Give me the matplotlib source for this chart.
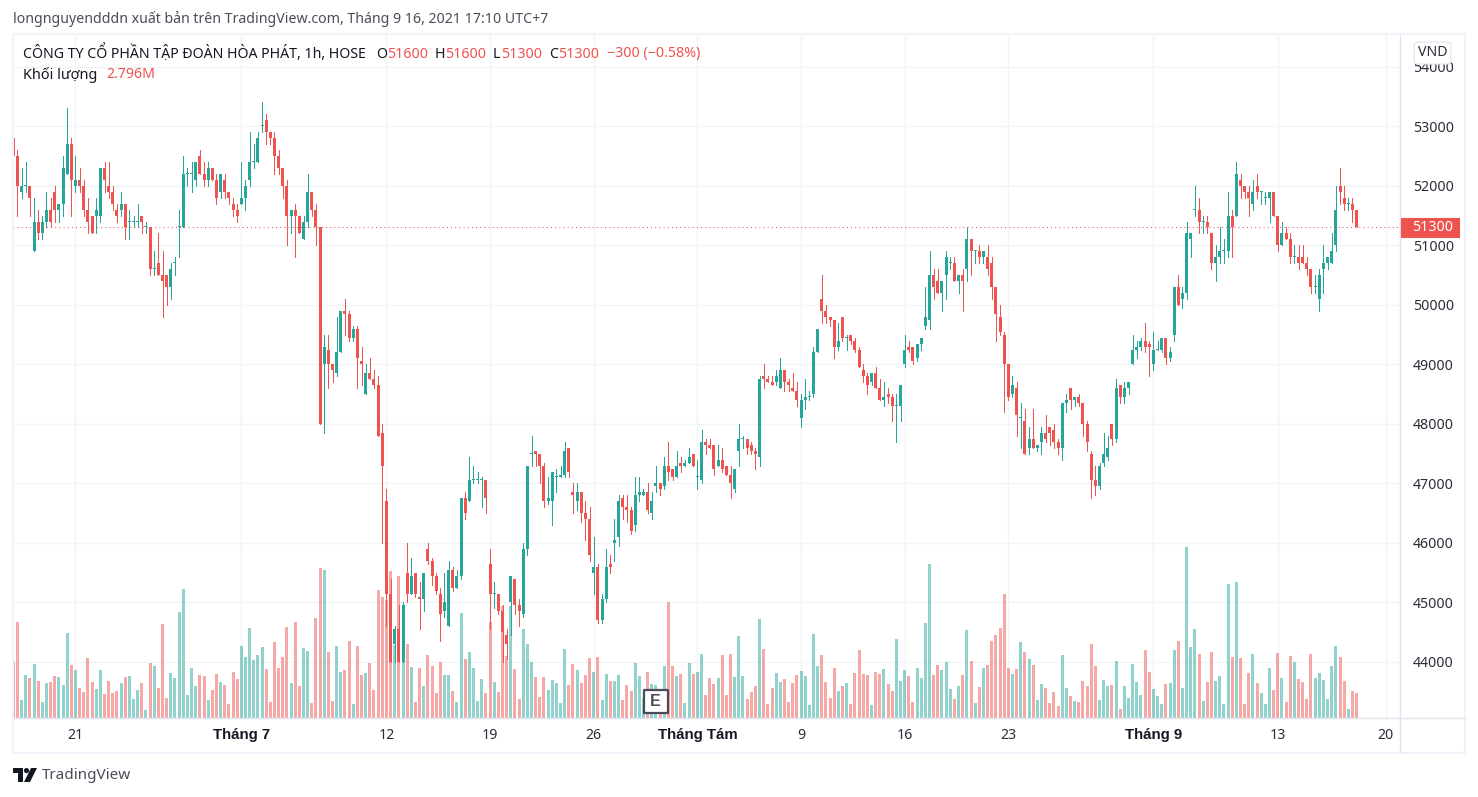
import numpy as np
import matplotlib
matplotlib.use("Agg")
import matplotlib.pyplot as plt
from matplotlib.patches import Rectangle, Polygon, Circle, FancyBboxPatch
from matplotlib.transforms import Affine2D

W, H = 1478, 797
plt.rcParams['font.family'] = ['Noto Sans', 'DejaVu Sans']

opens = [52800,52500,51900,52000,52000,50900,51400,51200,51400,51600,
51900,51600,51700,52200,52700,52000,52100,52000,51600,51500,
51500,51500,52300,52000,51900,51600,51600,51700,51400,51400,
51400,51500,51300,51300,50600,50700,50500,50500,50300,50700,
51300,51300,52200,52200,52100,52500,52200,52100,52300,52100,
51900,52100,51900,51700,51600,51700,51800,52100,52400,52400,
53000,53100,52900,52800,52500,52300,52000,51500,51600,51500,
51100,51400,51900,51600,51300,49000,49250,49000,48850,49200,
49900,49850,49450,49600,49050,48500,48850,48750,48650,47850,
46700,45150,44300,44550,44000,45500,45150,45500,45100,45050,
45900,45700,45450,45150,44850,44600,45550,45250,45450,46750,
46700,47050,47050,47050,47050,45650,45150,45150,44850,44450,
45000,45400,44950,44800,45900,47500,47550,47500,47300,46700,
46700,47100,47100,47150,47600,46850,46700,46850,46500,46400,
45500,45600,44700,45050,45650,46000,46100,46750,46600,46550,
46300,46800,46800,46850,46500,46950,47000,46950,47300,47250,
47100,47350,47300,47350,47500,47100,47050,47700,47650,47650,
47300,47400,47300,47150,46900,47550,47750,47750,47650,47550,
47450,48800,48750,48700,48700,48600,48900,48700,48600,48550,
48100,48400,48450,48500,49200,50100,49900,49800,49750,49300,
49800,49450,49500,49400,49250,48900,48800,48700,48850,48600,
48400,48500,48450,48300,48300,49000,49300,49300,49100,49350,
49650,49750,50500,50400,50200,50500,50700,50700,50400,50500,
50600,51100,50900,50900,50800,50800,50700,50300,49800,49500,
49000,48500,48600,48100,48050,47600,47750,47600,47700,47850,
47950,47900,47700,47600,48350,48600,48400,48450,48350,48000,
47500,47050,46950,47350,47450,48000,47750,48650,48450,48600,
49000,49250,49300,49400,49350,49000,49250,49250,49450,49100,
49500,50300,50100,50200,51100,51600,51600,51400,51400,51200,
50700,50800,50900,50900,51500,51500,52100,52000,51900,51700,
52000,51900,51800,51800,51900,51500,51000,51200,51100,50800,
50800,50800,50700,50600,50300,50100,50600,50700,50700,51000,
52000,51800,51700,51700,51600]

closes = [52500,52000,52000,52000,51800,51400,51200,51400,51600,51400,
51600,51700,52300,52700,52100,52100,52000,51600,51400,51200,
51600,52300,52100,51900,51700,51500,51700,51300,51400,51400,
51400,51400,51300,50600,50600,50500,50400,50300,50600,50700,
51300,52200,52200,52200,52400,52200,52100,52300,52100,51800,
52200,51900,51800,51600,51500,51800,52000,52400,52400,52800,
53000,52900,52800,52500,52300,52000,51500,51600,51500,51200,
51400,51900,51600,51300,48000,49300,49000,48900,49200,49900,
49850,49450,49600,49100,49000,48850,48750,48650,47800,47300,
45150,44000,44550,44000,44950,45150,45450,45150,45050,45500,
45700,45450,45200,44800,45000,45550,45250,45450,46750,46500,
47050,47050,47050,47050,46750,45150,45150,44850,44500,44300,
45450,44950,44850,45900,47300,47500,47500,47300,46700,46750,
47200,47100,47150,47550,47200,46800,46850,46500,46400,45800,
45600,44700,45050,45600,45600,46050,46700,46600,46550,46200,
46800,46850,46850,46550,46700,47000,46900,47300,47200,47100,
47300,47300,47350,47450,47300,47100,47700,47650,47600,47250,
47400,47250,47150,47000,47250,47750,47750,47600,47550,47500,
48750,48750,48700,48650,48800,48900,48700,48650,48550,48400,
48400,48450,48450,49200,49600,49900,49800,49750,49300,49400,
49450,49450,49400,49250,48950,48800,48650,48850,48600,48400,
48450,48450,48300,48300,48650,49250,49250,49050,49350,49450,
49800,50500,50300,50200,50400,50800,50700,50400,50500,50400,
51100,50900,50900,50800,50900,50600,50300,49850,49550,49000,
48450,48650,48150,48100,47500,47750,47600,47650,47850,47750,
47850,47700,47600,48350,48400,48400,48450,48350,48000,47700,
47050,46950,47300,47500,47600,47750,48600,48450,48600,48700,
49250,49300,49400,49300,49300,49250,49250,49450,49100,49200,
50300,50000,50200,51200,51200,51600,51400,51400,51300,50700,
50800,50900,50900,51500,51300,52200,52000,51900,51800,51900,
51900,51900,51800,51900,51500,51000,51200,51100,50800,50800,
50700,50700,50600,50300,50300,50500,50700,50800,50900,51600,
51900,51700,51700,51600,51300]

highs = [53000,52600,52300,52400,52000,51800,51600,51500,51900,51800,
52000,51700,52500,53300,52800,52500,52300,52100,51800,51500,
51800,52300,52400,52400,52000,51700,51900,51700,51600,51500,
51700,51500,51400,51300,50900,51200,50900,50500,50700,50800,
51600,52500,52300,52400,52400,52600,52400,52400,52300,52200,
52200,52200,51900,51800,51700,52400,52100,52900,52700,52900,
53400,53200,52900,52900,52600,52300,52100,51600,51700,51500,
51500,52200,51900,51700,51300,49500,49500,49000,49800,49900,
50100,49900,49650,49650,49300,49000,49100,48900,48800,48000,
46900,45400,44600,44950,45000,46000,45750,45500,45350,45500,
46000,45750,45500,45250,45500,45700,45600,45550,46750,46850,
47450,47300,47200,47100,47050,45900,45350,45150,44950,44550,
45450,45400,45050,46000,47300,47800,47550,47500,47350,47100,
47200,47250,47300,47700,47600,47000,47000,46850,46700,46600,
46100,45650,45150,45900,45800,46400,46800,46800,46800,46600,
47100,47100,46900,47000,46850,47300,47000,47450,47700,47250,
47550,47450,47400,47600,47500,47400,47900,47750,47750,47650,
47650,47600,47300,47300,47250,48000,47800,47750,47700,47600,
48800,49000,48800,48800,48900,49100,48900,48750,48850,48700,
48500,48750,48550,49300,49600,50500,50000,49800,49750,49700,
49800,49500,49500,49450,49300,49000,48850,48850,48950,48750,
48700,48600,48500,48500,48650,49500,49400,49300,49350,49450,
50300,50900,50600,50600,50400,50900,50800,50800,50500,50600,
51300,51100,50900,51000,50900,51000,50800,50300,50000,49550,
49000,48800,48700,48350,48250,47950,48250,47650,47950,48150,
47950,48000,47750,48350,48500,48600,48450,48500,48350,48050,
47550,47300,47350,47850,47800,48000,48750,48650,48700,48700,
49500,49400,49450,49700,49400,49550,49400,49450,49450,49300,
50300,50500,50300,51400,51200,52000,51800,51500,51500,51200,
51000,51300,51100,51900,51600,52400,52200,52000,52000,52100,
52200,51900,51900,51900,51900,51500,51400,51300,51200,51000,
51000,51000,50800,50600,50500,50600,51000,50800,51200,52000,
52300,52000,51800,51800,51600]

lows = [52500,51500,51800,51900,51500,50900,51100,51100,51300,51300,
51400,51400,51500,52200,51500,51900,51900,51500,51200,51200,
51200,51400,51900,51800,51600,51400,51500,51100,51100,51300,
51300,51200,51200,50500,50500,50500,49800,50000,50100,50500,
50800,51300,52000,51900,52000,52200,52000,52000,52100,51700,
51800,51800,51700,51500,51400,51700,51600,52000,52300,52400,
52900,52700,52700,52200,52200,51800,51000,51200,50800,51200,
51100,51300,51500,51000,48000,47850,48600,48700,48800,49200,
49500,49400,49400,48600,48650,48500,48750,48600,47800,46000,
44600,44000,44000,44000,44000,45000,45150,45100,44550,44850,
45650,45300,45150,44350,44750,44600,45200,45250,45400,46400,
46700,47000,47000,46600,46500,44550,44900,44800,44000,44050,
44450,44800,44600,44750,45800,47300,47300,47000,46600,46650,
46300,46850,47100,47100,47100,46500,46550,46350,46050,45700,
45150,44650,44650,45000,45500,45700,45950,46400,46350,46150,
46200,46700,46800,46500,46400,46850,46800,46900,47050,47050,
47100,47200,47300,47350,47300,46900,47000,47500,47600,47150,
47300,47200,47150,46750,46850,47300,47600,47500,47500,47250,
47300,48600,48700,48650,48650,48600,48550,48550,48550,48300,
47950,48250,48400,48450,49200,49700,49700,49650,49100,49250,
49400,49250,49350,49200,48950,48700,48500,48650,48600,48400,
48300,48350,48050,47700,48050,48950,49200,49000,49050,49250,
49600,49600,50100,50200,49900,50100,50600,50400,50200,49900,
50400,50500,50700,50700,50700,50500,50100,49400,49500,48200,
48400,48450,47800,47600,47500,47500,47600,47550,47500,47700,
47650,47600,47500,47400,48200,48250,48300,48300,47800,47550,
46750,46800,46900,47300,47400,47650,47700,48350,48350,48500,
49000,49100,49250,49200,48800,48900,49250,49200,49000,49050,
49400,50000,49950,50100,50800,51500,51200,51200,51200,50600,
50400,50700,50700,50800,50800,51500,51800,51800,51500,51600,
51800,51700,51700,51400,51500,50900,51000,51100,50700,50700,
50600,50700,50500,50200,50200,49900,50200,50600,50700,50900,
51700,51600,51600,51400,51300]

# volume in millions of shares
volumes = [6.26,10.73,2.01,4.81,4.47,6.04,4.14,1.79,3.91,4.02,
4.70,4.58,3.69,9.50,5.93,5.37,3.35,2.91,6.71,4.02,
3.24,5.37,2.68,4.14,2.80,3.02,3.91,4.58,4.70,2.12,
3.13,3.91,0.89,6.15,5.81,3.35,10.51,2.24,5.03,4.47,
11.85,14.42,2.57,5.59,3.58,4.81,4.70,2.01,3.13,4.92,
4.02,3.69,1.57,5.14,4.36,8.05,6.82,10.06,6.48,7.04,
7.94,5.48,1.79,8.50,5.59,6.82,10.17,3.91,10.73,3.58,
7.83,7.49,1.68,11.18,16.77,16.55,7.38,1.90,8.05,5.14,
5.37,8.61,1.57,8.05,4.81,5.03,6.15,3.13,14.31,13.53,
13.19,16.43,8.16,15.88,11.96,8.27,5.70,1.79,5.59,3.58,
7.04,5.81,2.80,6.26,4.81,4.81,3.02,1.79,11.74,6.60,
7.38,5.59,1.90,4.36,2.80,10.73,4.02,2.91,12.52,6.93,
12.52,5.48,2.12,9.95,8.27,6.26,4.58,2.35,4.58,3.13,
4.25,3.91,1.68,7.71,3.69,6.04,5.37,3.91,4.81,6.71,
5.14,6.82,2.01,4.92,4.14,4.14,4.81,2.01,3.69,3.02,
6.15,4.70,2.24,5.14,3.80,3.69,2.24,5.81,12.97,5.81,
4.70,4.92,1.68,6.15,4.92,5.14,7.16,2.57,4.47,3.80,
4.47,7.04,2.57,7.16,4.58,9.17,4.70,2.12,2.91,3.58,
11.07,7.71,1.57,3.35,5.03,4.02,4.36,1.79,3.91,4.81,
5.25,4.70,1.45,9.39,5.81,7.04,4.02,2.24,5.59,3.02,
3.58,3.91,1.57,5.03,7.60,4.92,4.81,1.45,5.14,4.92,
5.48,3.80,3.02,8.83,4.14,5.37,4.70,1.79,5.59,4.47,
10.62,17.22,4.81,5.93,5.37,6.26,3.24,2.12,3.58,4.81,
9.84,6.37,1.68,3.47,5.59,5.93,8.61,9.28,10.06,13.86,
5.59,4.92,5.48,8.50,7.38,6.60,5.93,2.01,3.80,3.35,
1.68,2.91,1.34,7.04,3.35,2.46,1.90,1.79,4.14,3.58,
8.27,5.81,2.01,4.25,3.58,3.69,6.37,1.01,3.58,2.24,
6.04,4.02,2.57,7.60,5.14,3.24,2.46,1.57,3.80,3.91,
7.60,8.61,3.35,19.12,7.94,9.95,7.16,1.90,4.02,7.38,
4.14,4.70,1.57,14.98,6.82,15.20,6.71,1.57,5.03,7.16,
3.91,2.80,1.57,5.59,3.13,7.27,4.47,1.79,6.93,6.26,
4.36,4.02,2.12,7.16,4.47,5.03,4.25,2.12,5.81,8.05,
6.82,4.14,1.01,3.02,2.80]

price_ticks = [44000,45000,46000,47000,48000,49000,50000,51000,52000,53000,54000]
time_ticks = [15,55,90,115,140,165,190,215,240,275,305,331]
time_labels = ['21','Tháng 7','12','19','26','Tháng Tám','9','16','23','Tháng 9','13','20']
month_labels = ['Tháng 7','Tháng Tám','Tháng 9']
last_price = 51300

GREEN = '#26a69a'
RED = '#ef5350'
GRID = '#f2f3f6'
LINE = '#e0e3eb'
TEXT = '#131722'
FS = 10.2

def fx(x):
    return x / W

def fy(y):
    return 1 - y / H

fig = plt.figure(figsize=(W / 100, H / 100), dpi=100, facecolor='white')

# plot area is x 13-1400, y 35-718 in image pixels
ax = fig.add_axes([fx(13), fy(718), fx(1400 - 13), fy(35) - fy(718)])
bar_px = 4.146
ax.set_xlim(-0.07, 334.47)
ax.set_ylim(43059, 54534)
px_price = (54534 - 43059) / 683

o = np.array(opens)
c = np.array(closes)
h = np.array(highs)
l = np.array(lows)
v = np.array(volumes)
x = np.arange(len(o))
up = c >= o
colors = [GREEN if u else RED for u in up]

ax.set_axisbelow(True)
ax.grid(True, color=GRID, lw=1)
ax.set_yticks(price_ticks)
ax.set_xticks(time_ticks)
ax.set_xticklabels(time_labels)
ax.yaxis.tick_right()
ax.tick_params(axis='y', length=0, pad=9.5, labelsize=FS, labelcolor='#2a2e39')
ax.tick_params(axis='x', length=0, pad=7.5, labelsize=FS, labelcolor='#2a2e39')
for t in ax.get_xticklabels():
    if t.get_text() in month_labels:
        t.set_family('Liberation Sans')
        t.set_fontweight('bold')
        t.set_fontsize(10.8)
        t.set_color(TEXT)
for name in ('left', 'top'):
    ax.spines[name].set_visible(False)
for name in ('right', 'bottom'):
    ax.spines[name].set_color(LINE)
    ax.spines[name].set_linewidth(1)

# volume shares the x axis, its height is scaled against the pane
vol_max = 683 * 0.1118
vol_trans = Affine2D().scale(1, 1 / vol_max) + ax.get_xaxis_transform()
ax.bar(x, v, width=3 / bar_px, color=colors, alpha=0.5, lw=0, transform=vol_trans, zorder=2)

ax.vlines(x, l, h, color=colors, lw=0.72, antialiased=False, zorder=3)
body = np.maximum(np.abs(c - o), px_price)
ax.bar(x, body, bottom=np.minimum(o, c), width=3 / bar_px, color=colors, lw=0, zorder=4)

ax.axhline(last_price, color=RED, lw=0.75, ls=(0, (1, 3)), zorder=5)
ax.set_xlim(-0.07, 334.47)
ax.set_ylim(43059, 54534)

# outer frame of the widget
fig.add_artist(Rectangle((fx(12.5), fy(752.5)), fx(1465 - 12.5), fy(34) - fy(752.5), fill=False,
                         ec='#f0f3fa', lw=1.5, transform=fig.transFigure))
fig.add_artist(plt.Line2D([fx(1400), fx(1465)], [fy(718), fy(718)], color=LINE, lw=1))
fig.add_artist(plt.Line2D([fx(1400), fx(1400)], [fy(718), fy(752)], color=LINE, lw=1))

fig.text(fx(13), fy(19), 'longnguyendddn xuất bản trên TradingView.com, Tháng 9 16, 2021 17:10 UTC+7',
         fontsize=FS, color='#4a4e59', va='center')
fig.text(fx(23), fy(54), 'CÔNG TY CỔ PHẦN TẬP ĐOÀN HÒA PHÁT, 1h, HOSE', fontsize=FS, color=TEXT, va='center')
for lab, lx, val, vx in [('O', 376, '51600', 387), ('H', 435, '51600', 445),
                         ('L', 493, '51300', 501), ('C', 549, '51300', 558)]:
    fig.text(fx(lx), fy(54), lab, fontsize=FS, color=TEXT, va='center')
    fig.text(fx(vx), fy(54), val, fontsize=FS, color=RED, va='center')
fig.text(fx(607), fy(54), '−300 (−0.58%)', fontsize=FS, color=RED, va='center')
fig.text(fx(23), fy(75), 'Khối lượng', fontsize=10.4, color=TEXT, va='center')
fig.text(fx(106), fy(75), '2.796M', fontsize=FS, color=RED, va='center')

# last price tag and currency box
fig.add_artist(FancyBboxPatch((fx(1401), fy(237)), fx(58), fy(218) - fy(237), boxstyle='square,pad=0',
                              fc=RED, ec=RED, lw=0.8, transform=fig.transFigure, zorder=5))
fig.text(fx(1432.5), fy(227.5), '51300', fontsize=FS, color='white', ha='center', va='center', zorder=6)
fig.text(fx(1432.5), fy(53), 'VND', fontsize=FS, color='#2a2e39', ha='center', va='center', zorder=6,
         bbox=dict(boxstyle='round,pad=0.25', fc='white', ec=LINE, lw=0.8))

# earnings marker
fig.add_artist(Rectangle((fx(643.5), fy(713)), fx(24.5), fy(689.5) - fy(713), fc='white', ec='#4a4c5c',
                         lw=1.6, joinstyle='round', transform=fig.transFigure, zorder=5))
fig.text(fx(655.7), fy(701.5), 'E', family='Liberation Sans', fontsize=11.5, fontweight='bold', color='#4a4c5c',
         ha='center', va='center', zorder=6)

# TradingView logo
logo = fig.add_axes([fx(13), fy(782), fx(24), fy(768) - fy(782)])
logo.set_xlim(0, 24)
logo.set_ylim(14, 0)
logo.axis('off')
logo.add_patch(Polygon([(0, 0), (10, 0), (10, 14), (5, 14), (5, 5), (0, 5)], fc=TEXT, ec='none'))
logo.add_patch(Circle((13.5, 2.6), 2.6, fc=TEXT, ec='none'))
logo.add_patch(Polygon([(18, 0), (24, 0), (17, 14), (11, 14)], fc=TEXT, ec='none'))
fig.text(fx(42), fy(775.5), 'TradingView', fontsize=11, color='#4a4e59', va='center')

fig.savefig('out.png', dpi=100)
